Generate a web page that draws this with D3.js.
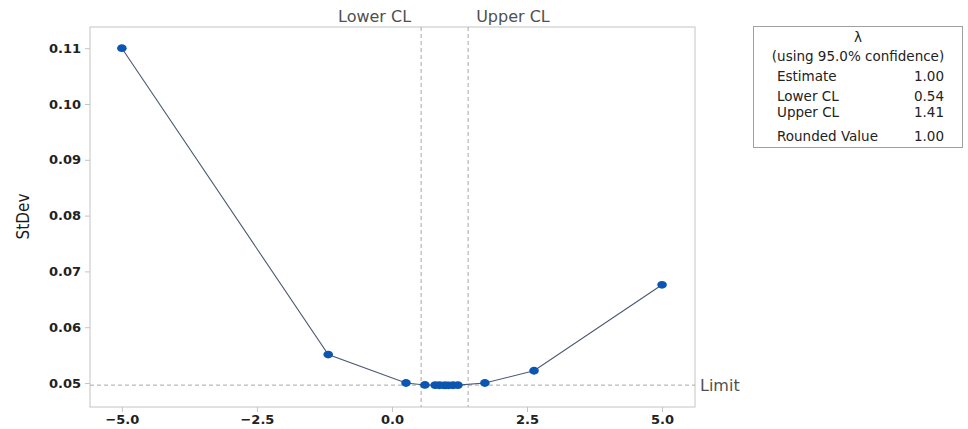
<!DOCTYPE html>
<html><head><meta charset="utf-8">
<script src="https://cdn.jsdelivr.net/npm/d3@7"></script>
<style>body{margin:0;background:#fff}svg{display:block}</style>
</head><body>
<svg id="c" width="968" height="429"></svg>
<script>
// Data
const lambdas = [-5.0, -1.18, 0.26, 0.61, 0.80, 0.88, 0.96, 1.00, 1.05, 1.13, 1.22, 1.72, 2.63, 5.0];
const stdevs  = [0.1100, 0.0551, 0.0500, 0.04965, 0.04962, 0.04960, 0.04959, 0.04959, 0.04959, 0.04960, 0.04962, 0.0500, 0.0522, 0.0676];
const xTicks = [-5.0, -2.5, 0.0, 2.5, 5.0];
const yTicks = [0.05, 0.06, 0.07, 0.08, 0.09, 0.10, 0.11];
const limitValue = 0.04962;
const lowerCL = 0.54, upperCL = 1.41;
const legendTitle = "λ";
const legendSub = "(using 95.0% confidence)";
const legendLabels = ["Estimate", "Lower CL", "Upper CL", "Rounded Value"];
const legendValues = ["1.00", "0.54", "1.41", "1.00"];

const svg = d3.select("#c");
const L = 90, R = 695, T = 27, B = 407;
const font = "'DejaVu Sans', sans-serif";

const x = d3.scaleLinear().domain([-5.59, 5.61]).range([L, R]);
const y = d3.scaleLinear().domain([0.0457, 0.1138]).range([B, T]);

// frame
svg.append("rect").attr("x", L).attr("y", T).attr("width", R - L).attr("height", B - T)
  .attr("fill", "none").attr("stroke", "#c4c4c4").attr("stroke-width", 1);

// axes
const xAxis = svg.append("g").attr("transform", `translate(0,${B})`)
  .call(d3.axisBottom(x).tickValues(xTicks).tickFormat(d3.format(".1f")).tickSize(5).tickSizeOuter(0));
const yAxis = svg.append("g").attr("transform", `translate(${L},0)`)
  .call(d3.axisLeft(y).tickValues(yTicks).tickFormat(d3.format(".2f")).tickSize(5).tickSizeOuter(0));
[xAxis, yAxis].forEach(a => {
  a.select(".domain").remove();
  a.selectAll(".tick line").attr("stroke", "#c4c4c4");
  a.selectAll(".tick text").attr("fill", "#222").style("font-family", font)
    .style("font-size", "13px").style("font-weight", "bold");
});
yAxis.selectAll(".tick text").attr("x", -9);

// y label
svg.append("text").attr("transform", `translate(29,${216.5}) rotate(-90)`)
  .attr("text-anchor", "middle").attr("fill", "#1a1a1a")
  .style("font-family", "'DejaVu Sans Condensed', 'DejaVu Sans', sans-serif").style("font-size", "17px")
  .text("StDev");

// reference lines
const dash = "4,3";
svg.append("line").attr("x1", L).attr("x2", R).attr("y1", y(limitValue)).attr("y2", y(limitValue))
  .attr("stroke", "#a8a8a8").attr("stroke-dasharray", dash);
[lowerCL, upperCL].forEach(v => {
  svg.append("line").attr("x1", x(v)).attr("x2", x(v)).attr("y1", T).attr("y2", B)
    .attr("stroke", "#a8a8a8").attr("stroke-dasharray", dash);
});
const lblStyle = s => s.attr("fill", "#505050").style("font-family", font).style("font-size", "16px");
svg.append("text").attr("x", x(lowerCL) - 10).attr("y", 22).attr("text-anchor", "end").call(lblStyle).text("Lower CL");
svg.append("text").attr("x", x(upperCL) + 8).attr("y", 22).attr("text-anchor", "start").call(lblStyle).text("Upper CL");
svg.append("text").attr("x", R + 5).attr("y", y(limitValue) + 6).call(lblStyle).text("Limit");

// line + points
const pts = lambdas.map((l, i) => [l, stdevs[i]]);
svg.append("path").datum(pts)
  .attr("d", d3.line().x(d => x(d[0])).y(d => y(d[1])))
  .attr("fill", "none").attr("stroke", "#4b5875").attr("stroke-width", 1.1);
svg.selectAll("ellipse.pt").data(pts).enter().append("ellipse")
  .attr("cx", d => x(d[0])).attr("cy", d => y(d[1])).attr("rx", 4.8).attr("ry", 3.9)
  .attr("fill", "#0b56b0");

// legend box
const lg = svg.append("g");
lg.append("rect").attr("x", 753.5).attr("y", 26.5).attr("width", 209).attr("height", 121)
  .attr("fill", "#fff").attr("stroke", "#a0a0a0");
const ts = s => s.attr("fill", "#222").style("font-family", font).style("font-size", "13.5px");
lg.append("text").attr("x", 858).attr("y", 42).attr("text-anchor", "middle").call(ts).text(legendTitle);
lg.append("text").attr("x", 858).attr("y", 61).attr("text-anchor", "middle").call(ts).text(legendSub);
const rowsY = [81, 101, 117, 141];
legendLabels.forEach((t, i) => {
  lg.append("text").attr("x", 777).attr("y", rowsY[i]).call(ts).text(t);
  lg.append("text").attr("x", 944).attr("y", rowsY[i]).attr("text-anchor", "end").call(ts).text(legendValues[i]);
});
</script>
</body></html>
